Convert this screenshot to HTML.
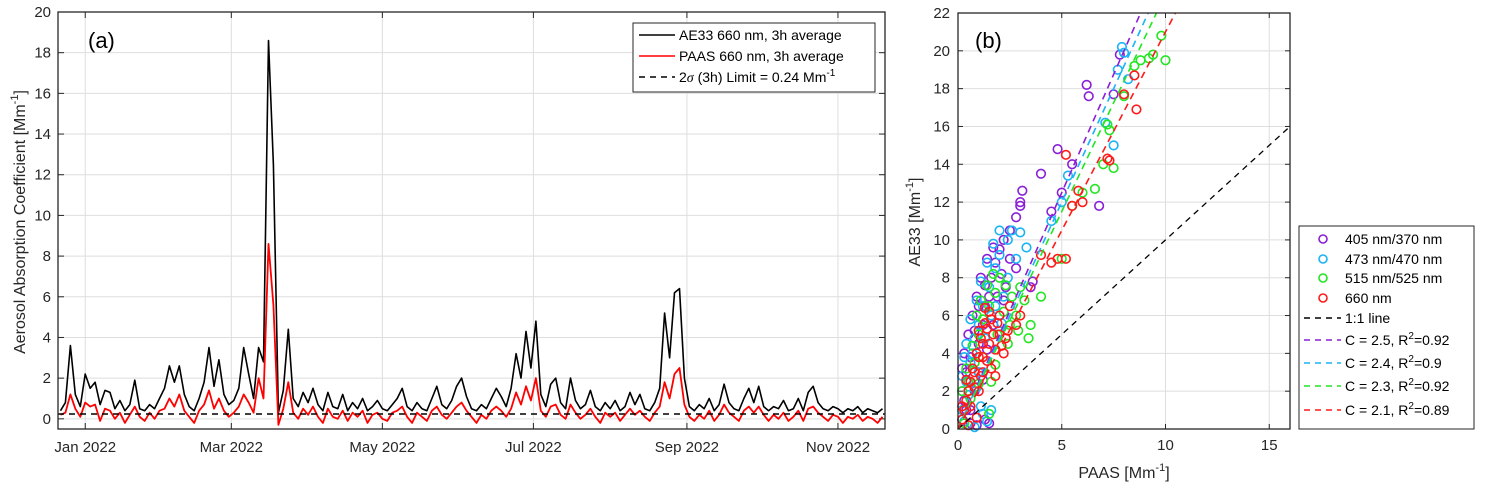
<!DOCTYPE html>
<html><head><meta charset="utf-8">
<style>
html,body{margin:0;padding:0;background:#fff;}
svg{display:block;font-family:"Liberation Sans",Arial,sans-serif;}
</style></head>
<body>
<svg id="fig" width="1486" height="500" viewBox="0 0 1486 500">
  <g id="pa"></g>
  <g id="pb"></g>
</svg>
<script>
// ---------- Panel (a) data ----------
const aStartDay = -10, aStepDays = 2;
const ae33Values = [0.4,0.8,3.6,1.2,0.6,2.2,1.5,1.8,0.7,1.4,1.3,0.5,0.9,0.4,0.7,1.9,0.5,0.4,0.7,0.5,1.0,1.5,2.6,1.8,2.6,1.2,0.6,0.4,1.0,1.8,3.5,1.6,2.9,1.2,0.7,0.9,1.5,3.5,2.2,1.0,3.5,2.8,18.6,12.5,0.3,1.4,4.4,1.0,0.6,1.3,0.8,1.5,0.7,0.4,1.3,0.6,0.5,1.2,0.4,0.8,0.5,1.0,0.4,0.6,0.9,0.5,0.4,0.7,1.0,1.5,0.6,0.4,0.8,0.5,0.4,1.0,1.6,0.7,0.5,0.9,1.6,2.0,1.1,0.5,0.4,0.7,0.5,1.0,1.5,1.1,0.6,1.5,3.2,2.0,4.3,2.5,4.8,1.2,0.6,1.7,2.0,0.8,0.5,2.0,0.9,0.5,0.7,1.4,0.6,0.4,0.8,0.5,0.9,0.4,0.6,1.3,0.7,1.2,0.5,0.4,0.8,1.5,5.2,3.0,6.2,6.4,2.0,0.6,0.4,0.7,0.5,1.0,0.4,0.7,1.7,0.8,0.5,0.4,1.0,1.5,0.8,1.6,0.6,0.4,0.6,0.5,0.9,0.4,0.5,1.0,0.4,1.3,1.6,0.8,0.5,0.4,0.6,0.5,0.3,0.5,0.4,0.6,0.3,0.5,0.4,0.3,0.5];
const paasValues = [0.2,0.3,1.2,0.5,0.1,0.8,0.6,0.7,-0.1,0.5,0.4,0.0,0.3,-0.2,0.2,0.6,0.1,-0.1,0.3,0.0,0.4,0.5,1.0,0.6,1.2,0.4,0.1,-0.2,0.4,0.7,1.4,0.5,1.0,0.4,0.1,0.3,0.6,1.2,0.8,0.3,2.0,1.0,8.6,5.6,-0.3,0.5,1.8,0.3,0.0,0.5,0.2,0.6,0.1,-0.2,0.5,0.1,0.0,0.4,-0.1,0.3,0.1,0.4,-0.2,0.2,0.3,0.0,-0.1,0.3,0.4,0.6,0.1,-0.2,0.3,0.1,-0.1,0.4,0.6,0.2,0.0,0.3,0.6,0.8,0.4,0.1,-0.2,0.2,0.0,0.4,0.6,0.4,0.1,0.5,1.3,0.7,1.6,0.9,2.0,0.4,0.1,0.6,0.7,0.2,0.0,0.7,0.3,0.0,0.2,0.5,0.1,-0.2,0.3,0.1,0.3,-0.1,0.2,0.5,0.2,0.4,0.1,-0.1,0.3,0.6,1.8,1.0,2.2,2.5,0.7,0.1,-0.1,0.2,0.0,0.4,-0.1,0.2,0.7,0.3,0.1,-0.1,0.4,0.6,0.3,0.6,0.2,-0.1,0.2,0.0,0.3,-0.1,0.1,0.4,-0.1,0.5,0.6,0.3,0.1,-0.1,0.2,0.1,-0.2,0.1,0.0,0.2,-0.1,0.1,0.0,-0.2,0.1];
const limitValue = 0.24;
const aYTicks = [0,2,4,6,8,10,12,14,16,18,20];
const aXTickDays = [0,59,120,181,243,304];
const aXTickLabels = ["Jan 2022","Mar 2022","May 2022","Jul 2022","Sep 2022","Nov 2022"];

// ---------- Panel (b) data ----------
const bTicksX = [0,5,10,15];
const bTicksY = [0,2,4,6,8,10,12,14,16,18,20,22];
const pts405 = [[0.2,0.5],[0.3,1.5],[0.5,2.5],[0.6,3.8],[0.8,2],[1,3],[1,4.5],[1.2,5.5],[1.3,6.5],[1.5,7],[1.6,8],[1.8,8.8],[2,9.5],[2.2,10],[2.5,9],[2.5,10.5],[2.8,11.2],[3,11.8],[3.1,12.6],[3,12],[4,13.5],[4.5,11.5],[5,12.5],[5.5,14],[6.2,18.2],[6.3,17.6],[7.8,19.8],[7.5,17.7],[6.8,11.8],[3.5,7.5],[3.6,7.8],[1.3,0.5],[1.5,0.3],[0.9,0.2],[2,6],[2.8,8.5],[1.2,2.6],[0.6,1],[4.8,14.8],[2.3,7.5],[0.4,3],[0.2,2],[0.3,4],[0.5,5],[0.7,6],[0.9,7],[1.1,8],[1.4,9],[1.7,9.6],[2.1,8.2],[1.9,7],[0.8,5.2],[0.4,1],[0.6,0.3],[1.4,4.2],[1.7,5.5],[2.2,6.8],[1.0,6.5],[1.3,7.6],[0.2,3.2]];
const pts473 = [[0.2,1],[0.4,2.5],[0.6,3.5],[0.8,4.8],[1,5.5],[1.2,6.5],[1.5,7.5],[1.8,8.5],[2,9.2],[2.4,10],[2.6,10.5],[3,10.4],[3.3,9.6],[5.3,13.4],[5,12],[7.1,16.2],[7.7,19],[7.9,20.2],[8.2,18.5],[8,19.9],[7.5,15],[4.5,11],[1.2,0.8],[1.4,0.4],[0.8,0.1],[1.6,1],[2.2,7],[0.3,3.8],[1,3],[2.8,9],[0.2,2.8],[0.4,4.5],[0.6,5.8],[0.9,6.8],[1.1,7.8],[1.4,8.8],[1.7,9.8],[2.0,10.5],[1.3,4.8],[1.6,6],[0.5,1.8],[0.9,2.2],[1.8,6.5],[2.4,8],[0.3,0.4],[1.1,1.2],[2.1,5.6],[0.7,4]];
const pts515 = [[0.3,1],[0.5,2.5],[0.8,3.5],[1,5],[1.2,5.8],[1.5,6.5],[1.8,7.2],[2,8],[2.3,7.6],[2.8,6],[3.5,5.5],[3.2,6.8],[3.4,4.8],[4,7],[5,9],[5.5,11.8],[6,12.5],[6.6,12.7],[7,14],[7.3,15.8],[7.5,13.8],[8,17.6],[8.5,19.2],[8.8,19.5],[9.4,19.8],[9.8,20.8],[10,19.5],[9.2,19.6],[7.2,16.1],[1.5,0.8],[1.6,2.5],[2.5,5.5],[3,7.5],[0.2,2],[0.4,3.2],[0.7,4.4],[0.9,6],[1.1,6.8],[1.4,7.6],[1.7,8.2],[2.2,6.2],[2.6,7],[1.9,5],[1.2,3.8],[0.6,1.6],[2.4,4.5],[2.9,5.2],[1.0,2.4],[0.3,0.3],[1.8,3.4]];
const pts660 = [[0.2,0.5],[0.4,1.5],[0.6,2.5],[0.8,3],[1,3.8],[1.2,4.5],[1.4,5.3],[1.6,5.8],[1.5,6.2],[1.8,4.2],[2,5],[2.2,4],[2.5,6.5],[2.8,5.5],[3,6],[4.5,8.8],[4.8,9],[5.2,14.5],[5.5,11.8],[5.8,12.6],[7.2,14.3],[7.3,14.2],[8,17.7],[8.5,18.7],[8.6,16.9],[6,12],[1,2],[0.5,0.2],[1.2,3],[2.3,4.8],[4,9.2],[5.2,9],[0.3,1],[0.5,2],[0.7,3.2],[0.9,4],[1.1,4.8],[1.3,5.6],[1.5,4.5],[1.7,5],[1.9,5.6],[1.0,5.2],[1.3,6.4],[0.6,1.2],[0.8,2.2],[1.1,2.8],[1.4,3.6],[1.6,3.2],[2.1,4.4],[2.0,6],[0.4,2.6],[0.2,1.2],[0.9,0.6],[1.8,2.8],[2.4,5.2],[1.2,3.8]];
const fitSlopes = [2.5,2.4,2.3,2.1];
const fitLabels = ["C = 2.5, R","C = 2.4, R","C = 2.3, R","C = 2.1, R"];
const fitR2 = ["=0.92","=0.9","=0.92","=0.89"];
const scatterLabels = ["405 nm/370 nm","473 nm/470 nm","515 nm/525 nm","660 nm"];

const NS = "http://www.w3.org/2000/svg";
function mk(parent, tag, attrs, text){
  const e = document.createElementNS(NS, tag);
  for (const k in attrs) e.setAttribute(k, attrs[k]);
  if (text !== undefined) e.textContent = text;
  parent.appendChild(e);
  return e;
}
const AXC = "#262626", GRID = "#dedede";

// ---------- Panel (a) ----------
const pa = document.getElementById('pa');
const aL = 58, aR = 885, aT = 12, aB = 429;
const aXmin = -11, aXmax = 323, aYmin = -0.5, aYmax = 20;
const ax = d => aL + (d - aXmin) / (aXmax - aXmin) * (aR - aL);
const ay = v => aB - (v - aYmin) / (aYmax - aYmin) * (aB - aT);

mk(pa,'rect',{x:aL,y:aT,width:aR-aL,height:aB-aT,fill:'#fff'});
aYTicks.forEach(t=>{
  const g = mk(pa,'line',{x1:aL,x2:aR,y1:ay(t),y2:ay(t),stroke:GRID,'stroke-width':1});
  
  
  const lb = mk(pa,'text',{x:aL-7,y:ay(t)+5,'text-anchor':'end','font-size':15,fill:AXC},String(t));
  
  
  mk(pa,'line',{x1:aL,x2:aL+6,y1:ay(t),y2:ay(t),stroke:AXC});
  mk(pa,'line',{x1:aR,x2:aR-6,y1:ay(t),y2:ay(t),stroke:AXC});
});
aXTickDays.forEach((d,i)=>{
  const g = mk(pa,'line',{x1:ax(d),x2:ax(d),y1:aT,y2:aB,stroke:GRID,'stroke-width':1});
  
  
  const lb = mk(pa,'text',{x:ax(d),y:452,'text-anchor':'middle','font-size':15,fill:AXC},aXTickLabels[i]);
  
  
  mk(pa,'line',{x1:ax(d),x2:ax(d),y1:aB,y2:aB-6,stroke:AXC});
  mk(pa,'line',{x1:ax(d),x2:ax(d),y1:aT,y2:aT+6,stroke:AXC});
});
function seriesPath(vals){
  return vals.map((v,i)=>(i?'L':'M')+ax(aStartDay+i*aStepDays).toFixed(1)+','+ay(v).toFixed(1)).join('');
}
const lAE = mk(pa,'path',{d:seriesPath(ae33Values),fill:'none',stroke:'#000','stroke-width':1.6,'stroke-linejoin':'round'});


const lPA = mk(pa,'path',{d:seriesPath(paasValues),fill:'none',stroke:'#ff0000','stroke-width':1.8,'stroke-linejoin':'round'});


const lim = mk(pa,'line',{x1:aL,x2:aR,y1:ay(limitValue),y2:ay(limitValue),stroke:'#000','stroke-width':1.5,'stroke-dasharray':'6,5'});


mk(pa,'rect',{x:aL,y:aT,width:aR-aL,height:aB-aT,fill:'none',stroke:AXC,'stroke-width':1.3});
const pla = mk(pa,'text',{x:88,y:48,'font-size':22,fill:'#000'},'(a)');


const yla = mk(pa,'text',{x:0,y:0,'font-size':16,fill:AXC,'text-anchor':'middle',transform:'translate(25,222) rotate(-90)'});


yla.innerHTML = 'Aerosol Absorption Coefficient [Mm<tspan dy="-7" font-size="11">-1</tspan><tspan dy="7">]</tspan>';
// legend a
const lga = mk(pa,'g',{});


mk(lga,'rect',{x:633,y:23,width:242,height:69,fill:'#fff',stroke:AXC,'stroke-width':1});
mk(lga,'line',{x1:639,x2:675,y1:35,y2:35,stroke:'#000','stroke-width':1.5});
mk(lga,'text',{x:679,y:40,'font-size':14,fill:'#000'},'AE33 660 nm, 3h average');
mk(lga,'line',{x1:639,x2:675,y1:56,y2:56,stroke:'#ff0000','stroke-width':1.5});
mk(lga,'text',{x:679,y:61,'font-size':14,fill:'#000'},'PAAS 660 nm, 3h average');
mk(lga,'line',{x1:639,x2:675,y1:77,y2:77,stroke:'#000','stroke-width':1.5,'stroke-dasharray':'6,5'});
const lt3 = mk(lga,'text',{x:679,y:82,'font-size':14,fill:'#000'});
lt3.innerHTML = '2<tspan font-style="italic" font-family="Liberation Serif">σ</tspan> (3h) Limit = 0.24 Mm<tspan dy="-6" font-size="10">-1</tspan>';

// ---------- Panel (b) ----------
const pb = document.getElementById('pb');
const bL = 958, bR = 1290, bT = 13, bB = 429;
const bx = v => bL + v / 16 * (bR - bL);
const by = v => bB - v / 22 * (bB - bT);
mk(pb,'rect',{x:bL,y:bT,width:bR-bL,height:bB-bT,fill:'#fff'});
bTicksY.forEach(t=>{
  const g = mk(pb,'line',{x1:bL,x2:bR,y1:by(t),y2:by(t),stroke:GRID});
  
  
  const lb = mk(pb,'text',{x:bL-8,y:by(t)+5,'text-anchor':'end','font-size':15,fill:AXC},String(t));
  
  
  mk(pb,'line',{x1:bL,x2:bL+5,y1:by(t),y2:by(t),stroke:AXC});
  mk(pb,'line',{x1:bR,x2:bR-5,y1:by(t),y2:by(t),stroke:AXC});
});
bTicksX.forEach(t=>{
  const g = mk(pb,'line',{x1:bx(t),x2:bx(t),y1:bT,y2:bB,stroke:GRID});
  
  
  const lb = mk(pb,'text',{x:bx(t),y:450,'text-anchor':'middle','font-size':15,fill:AXC},String(t));
  
  
  mk(pb,'line',{x1:bx(t),x2:bx(t),y1:bB,y2:bB-5,stroke:AXC});
  mk(pb,'line',{x1:bx(t),x2:bx(t),y1:bT,y2:bT+5,stroke:AXC});
});
const colors = ['#8a1fd6','#19b4f5','#22e622','#ff1a1a'];
const allPts = [pts405,pts473,pts515,pts660];
allPts.forEach((pts,si)=>{
  pts.forEach(p=>{
    const c = mk(pb,'circle',{cx:bx(p[0]),cy:by(p[1]),r:4.3,fill:'none',stroke:colors[si],'stroke-width':1.6});
    
    
  });
});
const one = mk(pb,'line',{x1:bx(0),y1:by(0),x2:bx(16),y2:by(16),stroke:'#000','stroke-width':1.3,'stroke-dasharray':'6,5'});


fitSlopes.forEach((s,i)=>{
  const xe = 22 / s;
  const f = mk(pb,'line',{x1:bx(0),y1:by(0),x2:bx(xe),y2:by(22),stroke:colors[i],'stroke-width':1.6,'stroke-dasharray':'7,5'});
  
  
});
mk(pb,'rect',{x:bL,y:bT,width:bR-bL,height:bB-bT,fill:'none',stroke:AXC,'stroke-width':1.3});
const plb = mk(pb,'text',{x:975,y:48,'font-size':22,fill:'#000'},'(b)');


const ylb = mk(pb,'text',{x:0,y:0,'font-size':16,fill:AXC,'text-anchor':'middle',transform:'translate(920,222) rotate(-90)'});


ylb.innerHTML = 'AE33 [Mm<tspan dy="-7" font-size="11">-1</tspan><tspan dy="7">]</tspan>';
const xlb = mk(pb,'text',{x:1124,y:478,'font-size':16,fill:AXC,'text-anchor':'middle'});


xlb.innerHTML = 'PAAS [Mm<tspan dy="-7" font-size="11">-1</tspan><tspan dy="7">]</tspan>';
// legend b
const lgb = mk(pb,'g',{});


mk(lgb,'rect',{x:1299,y:226,width:175,height:203,fill:'#fff',stroke:AXC,'stroke-width':1});
const rowY = [239,259,278,298,318,340,363,386,410];
scatterLabels.forEach((t,i)=>{
  mk(lgb,'circle',{cx:1323,cy:rowY[i],r:4,fill:'none',stroke:colors[i],'stroke-width':1.6});
  mk(lgb,'text',{x:1345,y:rowY[i]+5,'font-size':14,fill:'#000'},t);
});
mk(lgb,'line',{x1:1304,x2:1341,y1:rowY[4],y2:rowY[4],stroke:'#000','stroke-width':1.4,'stroke-dasharray':'6,5'});
mk(lgb,'text',{x:1345,y:rowY[4]+5,'font-size':14,fill:'#000'},'1:1 line');
fitLabels.forEach((t,i)=>{
  const yy = rowY[5+i];
  mk(lgb,'line',{x1:1304,x2:1341,y1:yy,y2:yy,stroke:colors[i],'stroke-width':1.6,'stroke-dasharray':'6,5'});
  const tx = mk(lgb,'text',{x:1345,y:yy+5,'font-size':14,fill:'#000'});
  tx.innerHTML = t + '<tspan dy="-6" font-size="10">2</tspan><tspan dy="6">' + fitR2[i] + '</tspan>';
});
</script>
</body></html>
